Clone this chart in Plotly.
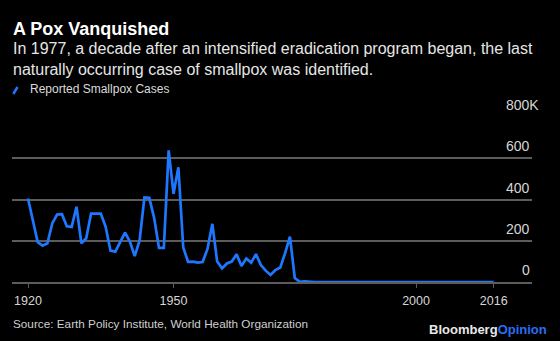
import plotly.graph_objects as go

# Reported smallpox cases, thousands per year
years = list(range(1920, 2017))
cases_1920_1977 = [
    405, 300, 193, 176, 188, 284, 327, 329, 270, 267,
    365, 188, 212, 332, 332, 332, 268, 152, 147, 192,
    239, 196, 126, 200, 410, 408, 311, 165, 165, 638,
    428, 556, 167, 98, 99, 94, 97, 160, 282, 99,
    66, 90, 99, 135, 78, 114, 94, 135, 82, 55,
    34, 58, 70, 140, 220, 19, 1, 3,
]
cases = cases_1920_1977 + [0] * (len(years) - len(cases_1920_1977))

x_ticks = [1920, 1950, 2000, 2016]
y_ticks = [0, 200, 400, 600, 800]
y_tick_text = ["0", "200", "400", "600", "800K"]

BLUE = "#1d78ff"
GRID = "#5c5c5c"
FONT = "Liberation Sans, Arial, Helvetica, sans-serif"

W, H = 560, 341
L, R, T, B = 12, 28, 117, 59
plot_h = H - T - B


def py(ypix):
    return (H - B - ypix) / plot_h


def px(xpix):
    return (xpix - L) / (W - L - R)


fig = go.Figure()
fig.add_trace(go.Scatter(
    x=years, y=cases, mode="lines",
    line=dict(color=BLUE, width=2.7),
    name="Reported Smallpox Cases", hoverinfo="skip",
))

annotations = [
    dict(text="<b>A Pox Vanquished</b>", x=px(11), y=py(28.5), xanchor="left",
         yanchor="middle", font=dict(size=18, color="#ffffff")),
    dict(text="In 1977, a decade after an intensified eradication program began, the last"
              "<br>naturally occurring case of smallpox was identified.",
         x=px(11), y=py(58.5), xanchor="left", yanchor="middle", align="left",
         font=dict(size=16, color="#e6e6e6")),
    dict(text="Reported Smallpox Cases", x=px(28), y=py(89.5), xanchor="left",
         yanchor="middle", font=dict(size=12, color="#dcdcdc")),
    dict(text="Source: Earth Policy Institute, World Health Organization",
         x=px(11), y=py(323.5), xanchor="left", yanchor="middle",
         font=dict(size=11.75, color="#cfcfcf")),
    dict(text="<b>Bloomberg</b><b><span style='color:#2a6ff5'>Opinion</span></b>",
         x=px(549), y=py(329.5), xanchor="right", yanchor="middle",
         font=dict(size=13, color="#e8e8e8")),
]
for v, t in zip(y_ticks, y_tick_text):
    annotations.append(dict(
        text=t, xref="paper", yref="y", x=1, y=v, xanchor="right", yanchor="middle",
        yshift=12, xshift=9.3 if t.endswith("K") else 0, showarrow=False,
        font=dict(size=14, color="#d6d6d6"),
    ))
for a in annotations:
    a.setdefault("xref", "paper")
    a.setdefault("yref", "paper")
    a.setdefault("showarrow", False)

fig.update_layout(
    width=W, height=H,
    margin=dict(l=L, r=R, t=T, b=B),
    paper_bgcolor="#000000", plot_bgcolor="#000000",
    font=dict(family=FONT, color="#d6d6d6"),
    showlegend=False,
    annotations=annotations,
    shapes=[dict(type="line", xref="paper", yref="paper",
                 x0=px(13.3), y0=py(94), x1=px(17.5), y1=py(87),
                 line=dict(color=BLUE, width=2.5))],
    xaxis=dict(
        range=[1916.7, 2023.9], tickvals=x_ticks, ticktext=[str(t) for t in x_ticks],
        showgrid=False, zeroline=False, showline=True, linecolor=GRID, linewidth=1.5,
        ticks="outside", ticklen=4, tickcolor=GRID, tickwidth=1,
        ticklabelstandoff=2,
        tickfont=dict(size=12.5, color="#d6d6d6"), fixedrange=True,
    ),
    yaxis=dict(
        range=[0, 800], tickmode="array", tickvals=y_ticks,
        showticklabels=False, showgrid=True, gridcolor=GRID, gridwidth=1.5,
        zeroline=False, fixedrange=True,
    ),
)

fig.write_html("out.html")
